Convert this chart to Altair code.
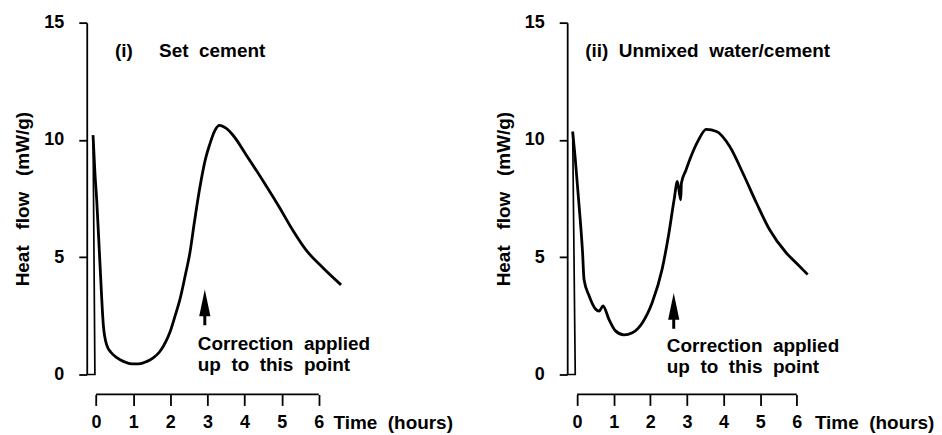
import altair as alt
import pandas as pd

NB = "\u00a0"

# ---------------- Panel (i): set cement ----------------
p1_spike_t = [-0.25, -0.03, -0.08]
p1_spike_h = [0.0, 0.0, 10.2]
p1_t = [-0.08, -0.03, 0.02, 0.11, 0.20, 0.29, 0.40, 0.56, 0.75, 0.96, 1.15, 1.36, 1.55, 1.72, 1.88,
        1.99, 2.13, 2.26, 2.40, 2.53, 2.65, 2.80, 2.95, 3.06, 3.20, 3.33, 3.50, 3.69, 4.05, 4.50,
        4.95, 5.30, 5.66, 6.11, 6.60]
p1_h = [10.2, 8.6, 7.4, 4.6, 2.05, 1.25, 0.95, 0.72, 0.55, 0.45, 0.45, 0.55, 0.72, 0.98, 1.4,
        1.8, 2.5, 3.2, 4.2, 5.2, 6.5, 8.0, 9.2, 9.8, 10.4, 10.62, 10.5, 10.2, 9.35, 8.25,
        7.1, 6.15, 5.3, 4.55, 3.82]
p1_title = f"(i){NB}{NB}{NB}{NB} Set{NB}{NB}cement"
p1_title_pos = (0.51, 13.8)
p1_arrow_t = 2.93
p1_arrow_shaft = (2.1, 2.8)
p1_arrow_head = 3.05
p1_note_t = 2.74
p1_note_h = [1.28, 0.42]

# ---------------- Panel (ii): unmixed water/cement ----------------
p2_spike_t = [-0.27, -0.05, -0.12]
p2_spike_h = [0.0, 0.0, 10.35]
p2_t = [-0.12, -0.05, 0.05, 0.15, 0.19, 0.33, 0.51, 0.60, 0.71, 0.87, 1.05, 1.28, 1.51, 1.78,
        2.05, 2.32, 2.50, 2.65, 2.74, 2.83, 2.85, 2.97, 3.10, 3.30, 3.53, 3.81, 4.17, 4.53, 4.90,
        5.26, 5.71, 5.98, 6.30]
p2_h = [10.35, 9.2, 7.3, 5.2, 4.05, 3.35, 2.78, 2.7, 2.92, 2.35, 1.86, 1.69, 1.78, 2.2,
        3.06, 4.47, 5.95, 7.45, 8.23, 7.45, 8.16, 8.7, 9.25, 9.95, 10.45, 10.36, 9.72, 8.58, 7.31,
        6.17, 5.19, 4.76, 4.26]
p2_title = f"(ii){NB}{NB}Unmixed{NB}{NB}water/cement"
p2_title_pos = (0.22, 13.8)
p2_arrow_t = 2.64
p2_arrow_shaft = (1.95, 2.6)
p2_arrow_head = 2.9
p2_note_t = 2.45
p2_note_h = [1.23, 0.34]

note_lines = [f"Correction{NB}{NB}applied", f"up{NB}{NB}to{NB}{NB}this{NB}{NB}point"]
x_ticks = [0, 1, 2, 3, 4, 5, 6]
y_ticks = [0, 5, 10, 15]

FONT = "Liberation Sans"
H = 353


def panel(spike_t, spike_h, t, h, title, title_pos, arrow_t, shaft, head_h,
          note_t, note_h, xdom, width, titlex):
    xenc = alt.X(
        "t:Q",
        scale=alt.Scale(domain=xdom, nice=False, zero=False),
        axis=alt.Axis(values=x_ticks, domain=False, grid=False, offset=20,
                      tickSize=11, tickWidth=1.8, tickColor="black",
                      labelFont=FONT, labelFontSize=18, labelFontWeight="bold",
                      labelColor="black", labelPadding=8, labelFlush=False,
                      title=f"Time{NB}{NB}(hours)", titleX=titlex, titleY=19,
                      titleAlign="left", titleBaseline="top", titleAngle=0,
                      titleFont=FONT, titleFontSize=19, titleFontWeight="bold",
                      titleColor="black"),
    )
    yenc = alt.Y(
        "h:Q",
        scale=alt.Scale(domain=[0, 15], nice=False),
        axis=alt.Axis(values=y_ticks, grid=False, domainColor="black", domainWidth=1.8,
                      tickSize=8, tickWidth=1.8, tickColor="black",
                      labelFont=FONT, labelFontSize=18, labelFontWeight="bold",
                      labelColor="black", labelPadding=15,
                      title=f"Heat{NB}{NB}{NB}flow{NB}{NB}{NB}(mW/g)", titleFont=FONT,
                      titleFontSize=19, titleFontWeight="bold", titleColor="black",
                      titlePadding=11),
    )
    spike = pd.DataFrame({"t": spike_t, "h": spike_h, "i": range(len(spike_t))})
    curve = pd.DataFrame({"t": t, "h": h, "i": range(len(t))})
    rule_df = pd.DataFrame({"t": [0], "t2": [6]})
    shaft_df = pd.DataFrame({"t": [arrow_t], "h": [shaft[0]], "h2": [shaft[1]]})
    head_df = pd.DataFrame({"t": [arrow_t], "h": [head_h]})
    text_df = pd.DataFrame({"t": [title_pos[0]], "h": [title_pos[1]], "label": [title]})
    note_df = pd.DataFrame({"t": [note_t, note_t], "h": note_h, "label": note_lines})

    l_spike = alt.Chart(spike).mark_line(color="black", strokeWidth=1.7).encode(
        x=xenc, y=yenc, order="i:Q")
    l_curve = alt.Chart(curve).mark_line(color="black", strokeWidth=2.8,
                                         interpolate="monotone").encode(
        x=xenc, y=yenc, order="i:Q")
    l_axis = alt.Chart(rule_df).mark_rule(color="black", strokeWidth=1.8).encode(
        x=xenc, x2="t2:Q", y=alt.value(H + 20))
    l_shaft = alt.Chart(shaft_df).mark_rule(color="black", strokeWidth=3).encode(
        x=xenc, y=yenc, y2="h2:Q")
    l_head = alt.Chart(head_df).mark_point(
        shape="M0,-1L0.42,1L-0.42,1Z", filled=True, color="black", opacity=1,
        size=720).encode(x=xenc, y=yenc)
    text_style = dict(font=FONT, fontSize=19, fontWeight="bold", color="black",
                      align="left", baseline="middle")
    l_title = alt.Chart(text_df).mark_text(**text_style).encode(x=xenc, y=yenc, text="label:N")
    l_note = alt.Chart(note_df).mark_text(**text_style).encode(x=xenc, y=yenc, text="label:N")
    return alt.layer(l_spike, l_curve, l_axis, l_shaft, l_head, l_title, l_note).properties(
        width=width, height=H)


left = panel(p1_spike_t, p1_spike_h, p1_t, p1_h, p1_title, p1_title_pos, p1_arrow_t,
             p1_arrow_shaft, p1_arrow_head, p1_note_t, p1_note_h, [-0.25, 6.65], 257, 247)
right = panel(p2_spike_t, p2_spike_h, p2_t, p2_h, p2_title, p2_title_pos, p2_arrow_t,
              p2_arrow_shaft, p2_arrow_head, p2_note_t, p2_note_h, [-0.27, 6.4], 245, 248)

chart = alt.hconcat(left, right, spacing=225, bounds="flush").configure_view(
    stroke=None).properties(padding={"left": 5, "top": 5, "right": 0, "bottom": 0})

chart.save("out.html", embed_options={"renderer": "svg", "actions": False})
